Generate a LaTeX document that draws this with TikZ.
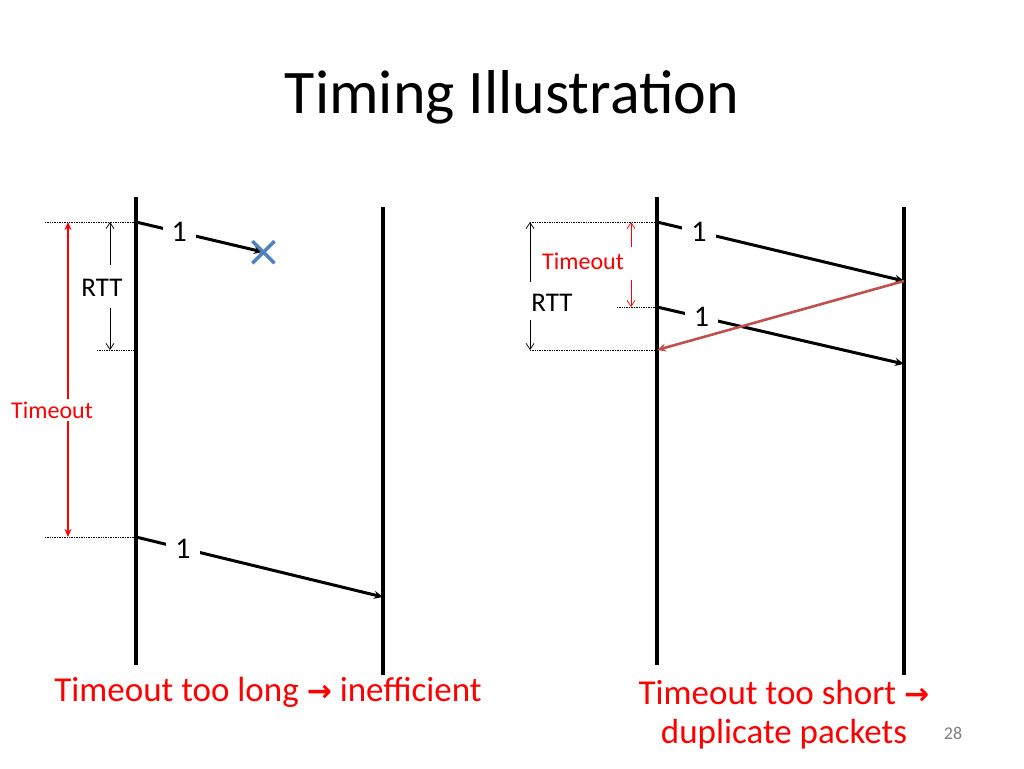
\documentclass[tikz,border=0pt]{standalone}
\usepackage{fontspec}
\setmainfont{Carlito}
\newfontfamily\dejavu{DejaVu Sans}
\usetikzlibrary{arrows.meta}
\definecolor{ackred}{RGB}{192,80,77}
\definecolor{xblue}{RGB}{79,129,189}
\begin{document}
\begin{tikzpicture}[x=1pt,y=-1pt,
  timeline/.style={line width=3.8pt},
  pkt/.style={line width=3pt,-{Stealth[length=9pt,width=8pt]}},
  lbl/.style={fill=white,inner xsep=9pt,inner ysep=3pt,font=\fontsize{30}{32}\selectfont},
  dot/.style={densely dotted,line width=0.7pt},
  thin/.style={line width=0.7pt,-{Straight Barb[length=6pt,width=8pt]}},
  redar/.style={red,line width=1.2pt},
  lab/.style={font=\fontsize{27}{30}\selectfont,inner sep=1pt},
  bot/.style={red,font=\fontsize{35}{42}\selectfont,align=center}]
\useasboundingbox (0,0) rectangle (1024,768);
\node (title) at (512,97) {\fontsize{62}{66}\selectfont Timing Illustration};
% left timelines
\coordinate (ls0) at (136,197); \coordinate (ls1) at (136,665);
\coordinate (lr0) at (383,207); \coordinate (lr1) at (383,675);
\draw[timeline] (ls0) -- (ls1); \draw[timeline] (lr0) -- (lr1);
\coordinate (la) at (136,222); \coordinate (lb) at (136,350); \coordinate (lc) at (136,537);
\coordinate (la0) at (45,222); \coordinate (lb0) at (97,350); \coordinate (lc0) at (45,537);
\draw[dot] (la0) -- (la); \draw[dot] (lb0) -- (lb); \draw[dot] (lc0) -- (lc);
\node[lab] (lrtt) at (102,288) {RTT};
\coordinate (lu) at (110,222); \coordinate (ld) at (110,350);
\draw[thin] (110,265) -- (lu);
\draw[thin] (110,308) -- (ld);
\coordinate (lt0) at (68,222); \coordinate (lt1) at (68,537);
\draw[redar,{Stealth[length=8pt,width=7pt]}-{Stealth[length=8pt,width=7pt]}] (lt0) -- (lt1);
\node[lab,fill=white,text=red,font=\fontsize{24}{26}\selectfont,inner sep=3pt] (ltimeout) at (52,410) {Timeout};
\coordinate (lx) at (263,252);
\draw[pkt] (la) -- (lx) node[lbl,pos=0.34] (l1) {1};
\node[xblue,font=\fontsize{44}{44}\selectfont\dejavu,inner sep=0pt] (cross) at (264,253) {×};
\coordinate (lrx) at (383,597);
\draw[pkt] (lc) -- (lrx) node[lbl,pos=0.19] (l2) {1};
% right timelines
\draw[timeline] (657,197) -- (657,665); \draw[timeline] (904,207) -- (904,675);
\coordinate (ra) at (657,222); \coordinate (rb) at (657,307); \coordinate (rc) at (657,350);
\draw[dot] (530,222) -- (ra); \draw[dot] (617,307) -- (rb); \draw[dot] (530,350) -- (rc);
\node[lab] (rrtt) at (552,303) {RTT};
\draw[thin] (530,282) -- (530,222);
\draw[thin] (530,320) -- (530,350);
\node[lab,text=red,font=\fontsize{24}{26}\selectfont] (rtimeout) at (583,261) {Timeout};
\draw[thin,red] (631,247) -- (631,222);
\draw[thin,red] (631,280) -- (631,307);
\coordinate (rr1) at (904,281); \coordinate (rr2) at (904,364);
\draw[pkt] (ra) -- (rr1) node[lbl,pos=0.17] (r1) {1};
\draw[pkt] (rb) -- (rr2) node[lbl,pos=0.18] (r2) {1};
\draw[ackred,line width=2.6pt,-{Stealth[length=9pt,width=8pt]}] (rr1) -- (rc);
\node[bot] (lbot) at (268,692) {Timeout too long {\dejavu\bfseries\fontsize{30}{32}\selectfont →} inefficient};
\node[bot] (rbot1) at (784,692) {Timeout too short {\dejavu\bfseries\fontsize{30}{32}\selectfont →}};
\node[bot] (rbot2) at (784,734) {duplicate packets};
\node[gray,font=\fontsize{18}{20}\selectfont] (pg) at (953,733) {28};
\end{tikzpicture}
\end{document}
